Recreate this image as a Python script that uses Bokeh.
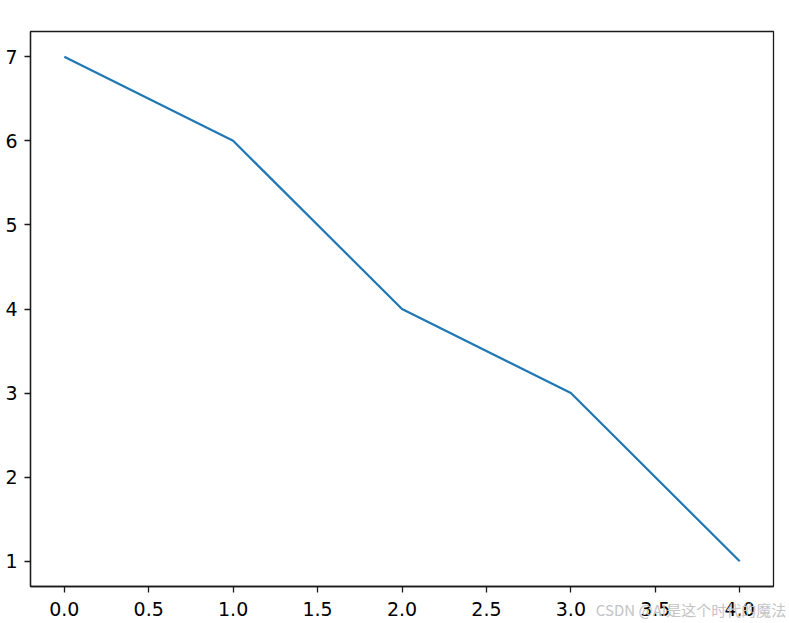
from bokeh.plotting import figure
from bokeh.models import Range1d, FixedTicker, NumeralTickFormatter
from bokeh.embed import file_html
from bokeh.resources import INLINE

x_vals = [0, 1, 2, 3, 4]
y_vals = [7, 6, 4, 3, 1]
x_ticks = [0.0, 0.5, 1.0, 1.5, 2.0, 2.5, 3.0, 3.5, 4.0]
y_ticks = [1, 2, 3, 4, 5, 6, 7]
watermark = "CSDN @AI是这个时代的魔法"

p = figure(width=789, height=623, output_backend="svg", toolbar_location=None,
           x_range=Range1d(-0.2, 4.2), y_range=Range1d(0.7, 7.3),
           min_border_left=30, min_border_top=31, min_border_right=16, min_border_bottom=37)
p.line(x_vals, y_vals, line_color="#1f77b4", line_width=2.2)

p.xgrid.visible = False
p.ygrid.visible = False
p.outline_line_color = "#1a1a1a"
p.outline_line_width = 1.3
p.background_fill_color = "white"
p.border_fill_color = "white"

for ax in (p.xaxis[0], p.yaxis[0]):
    ax.axis_line_color = "#1a1a1a"
    ax.axis_line_width = 1.3
    ax.major_tick_line_color = "#1a1a1a"
    ax.major_tick_line_width = 1.3
    ax.major_tick_out = 6
    ax.major_tick_in = 0
    ax.minor_tick_line_color = None
    ax.major_label_text_font = "DejaVu Sans"
    ax.major_label_text_font_size = "19px"
    ax.major_label_text_color = "black"

xa = p.xaxis[0]
xa.ticker = FixedTicker(ticks=x_ticks)
xa.formatter = NumeralTickFormatter(format="0.0")
xa.major_label_standoff = 9
# watermark placed as the axis label at the right end, overlapping the tick-label row;
# trailing ideographic spaces shift the visible text so it ends near the right edge
xa.axis_label = watermark + "\u3000" * 11
xa.axis_label_align = "end"
xa.axis_label_standoff = -20
xa.axis_label_text_font = "Noto Sans CJK SC"
xa.axis_label_text_font_size = "15px"
xa.axis_label_text_font_style = "normal"
xa.axis_label_text_color = "#c4c4c4"

p.yaxis[0].ticker = FixedTicker(ticks=y_ticks)
p.yaxis[0].major_label_standoff = 7

open("out.html", "w").write(file_html(p, INLINE))
